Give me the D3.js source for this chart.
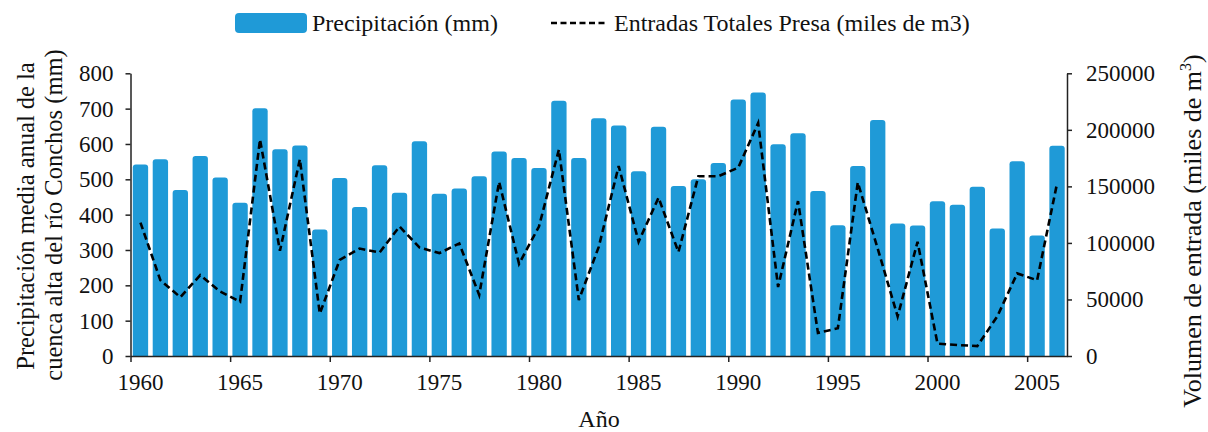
<!DOCTYPE html>
<html><head><meta charset="utf-8">
<script src="https://cdn.jsdelivr.net/npm/d3@7"></script>
<style>body{margin:0;background:#fff}svg{display:block}</style>
</head><body><svg id="c" width="1208" height="432"></svg>
<script>
const years = d3.range(1960, 2007);
const precip = [542,557,470,566,505,434,701,585,596,358,504,422,540,462,608,459,474,509,579,560,532,722,560,673,652,523,649,481,500,546,726,746,599,630,467,370,538,668,375,369,438,428,479,361,551,341,595];
const inflow = [118000,67000,52000,71500,57000,48000,191500,93000,174000,37500,85000,95000,91500,114500,96000,91000,99500,54000,154000,81500,114500,182500,49500,96500,168000,101000,140000,92000,159000,159000,166500,206000,61000,137000,20500,24500,153500,95000,35000,101000,11000,9700,8800,35000,73000,67000,152500];
const leftTicks = d3.range(0, 801, 100);
const rightTicks = d3.range(0, 250001, 50000);
const labelYears = [1960,1965,1970,1975,1980,1985,1990,1995,2000,2005];

const FF = "Liberation Serif";
const svg = d3.select("#c").attr("font-family", FF);
const L = 130.5, R = 1067, T = 73.3, B = 356;
const x = d3.scaleBand().domain(years).range([L, R]).paddingInner(0.23).paddingOuter(0.115);
const xLin = d3.scaleLinear().domain([1960, 2007]).range([L, R]);
const yL = d3.scaleLinear().domain([0, 800]).range([B, T]);
const yR = d3.scaleLinear().domain([0, 250000]).range([B, T]);
const blue = "#1f9ad7";

// bars with rounded tops
const bw = x.bandwidth(), r = 3;
svg.append("g").selectAll("path").data(years).join("path")
  .attr("fill", blue)
  .attr("d", (yr, i) => {
    const x0 = x(yr), x1 = x0 + bw, y0 = yL(precip[i]);
    return `M${x0},${B}V${y0 + r}Q${x0},${y0} ${x0 + r},${y0}H${x1 - r}Q${x1},${y0} ${x1},${y0 + r}V${B}Z`;
  });

// line
const line = d3.line().x((d, i) => x(years[i]) + bw / 2).y(d => yR(d));
svg.append("path").datum(inflow).attr("d", line).attr("fill", "none")
  .attr("stroke", "#000").attr("stroke-width", 2.6).attr("stroke-dasharray", "7,4");

const fs = 23;
function styleAxis(g) {
  g.attr("font-family", FF).attr("font-size", fs);
  g.selectAll(".domain").attr("stroke", "#222").attr("stroke-width", 1.5);
  g.selectAll(".tick line").attr("stroke", "#222").attr("stroke-width", 1.5);
  g.selectAll("text").attr("font-size", fs).attr("font-family", FF).attr("fill", "#111");
}
// left axis
svg.append("g").attr("transform", `translate(${L},0)`)
  .call(d3.axisLeft(yL).tickValues(leftTicks).tickSize(5).tickSizeOuter(0).tickPadding(12).tickFormat(d3.format("d")))
  .call(styleAxis);
// right axis
svg.append("g").attr("transform", `translate(${R},0)`)
  .call(d3.axisRight(yR).tickValues(rightTicks).tickSize(5).tickSizeOuter(0).tickPadding(14).tickFormat(d3.format("d")))
  .call(styleAxis);
// bottom axis ticks at boundaries
svg.append("g").attr("transform", `translate(0,${B})`)
  .call(d3.axisBottom(xLin).tickValues(labelYears).tickSize(6).tickSizeOuter(0).tickFormat(""))
  .call(styleAxis);
// bottom labels at bar centers
const gl = svg.append("g").attr("transform", `translate(0,${B})`)
  .call(d3.axisBottom(x).tickValues(labelYears).tickSize(0).tickPadding(18))
  .call(styleAxis);
gl.select(".domain").remove();

// titles
svg.append("text").attr("x", 599).attr("y", 427).attr("text-anchor", "middle").attr("font-size", 24).attr("font-family", FF).attr("fill", "#111").text("Año");
svg.append("text").attr("transform", "translate(34,216) rotate(-90)").attr("text-anchor", "middle").attr("font-size", 24.5).attr("font-family", FF).attr("fill", "#111")
  .text("Precipitación media anual de la");
svg.append("text").attr("transform", "translate(62,215) rotate(-90)").attr("text-anchor", "middle").attr("font-size", 24.5).attr("font-family", FF).attr("fill", "#111")
  .text("cuenca alta del río Conchos (mm)");
const rt = svg.append("text").attr("transform", "translate(1201,231) rotate(-90)").attr("text-anchor", "middle").attr("font-size", 26).attr("font-family", FF).attr("fill", "#111");
rt.append("tspan").text("Volumen de entrada (miles de m");
rt.append("tspan").attr("dy", -10).attr("font-size", 16).text("3");
rt.append("tspan").attr("dy", 10).text(")");

// legend
const lg = svg.append("g");
lg.append("rect").attr("x", 235).attr("y", 13).attr("width", 72).attr("height", 20).attr("rx", 4).attr("fill", blue);
lg.append("text").attr("x", 312).attr("y", 31).attr("font-size", 24).attr("font-family", FF).attr("fill", "#111").text("Precipitación (mm)");
lg.append("line").attr("x1", 551).attr("x2", 607).attr("y1", 23).attr("y2", 23).attr("stroke", "#000").attr("stroke-width", 2.6).attr("stroke-dasharray", "6,3.5");
lg.append("text").attr("x", 614).attr("y", 31).attr("font-size", 24).attr("font-family", FF).attr("fill", "#111").text("Entradas Totales Presa (miles de m3)");
</script></body></html>
